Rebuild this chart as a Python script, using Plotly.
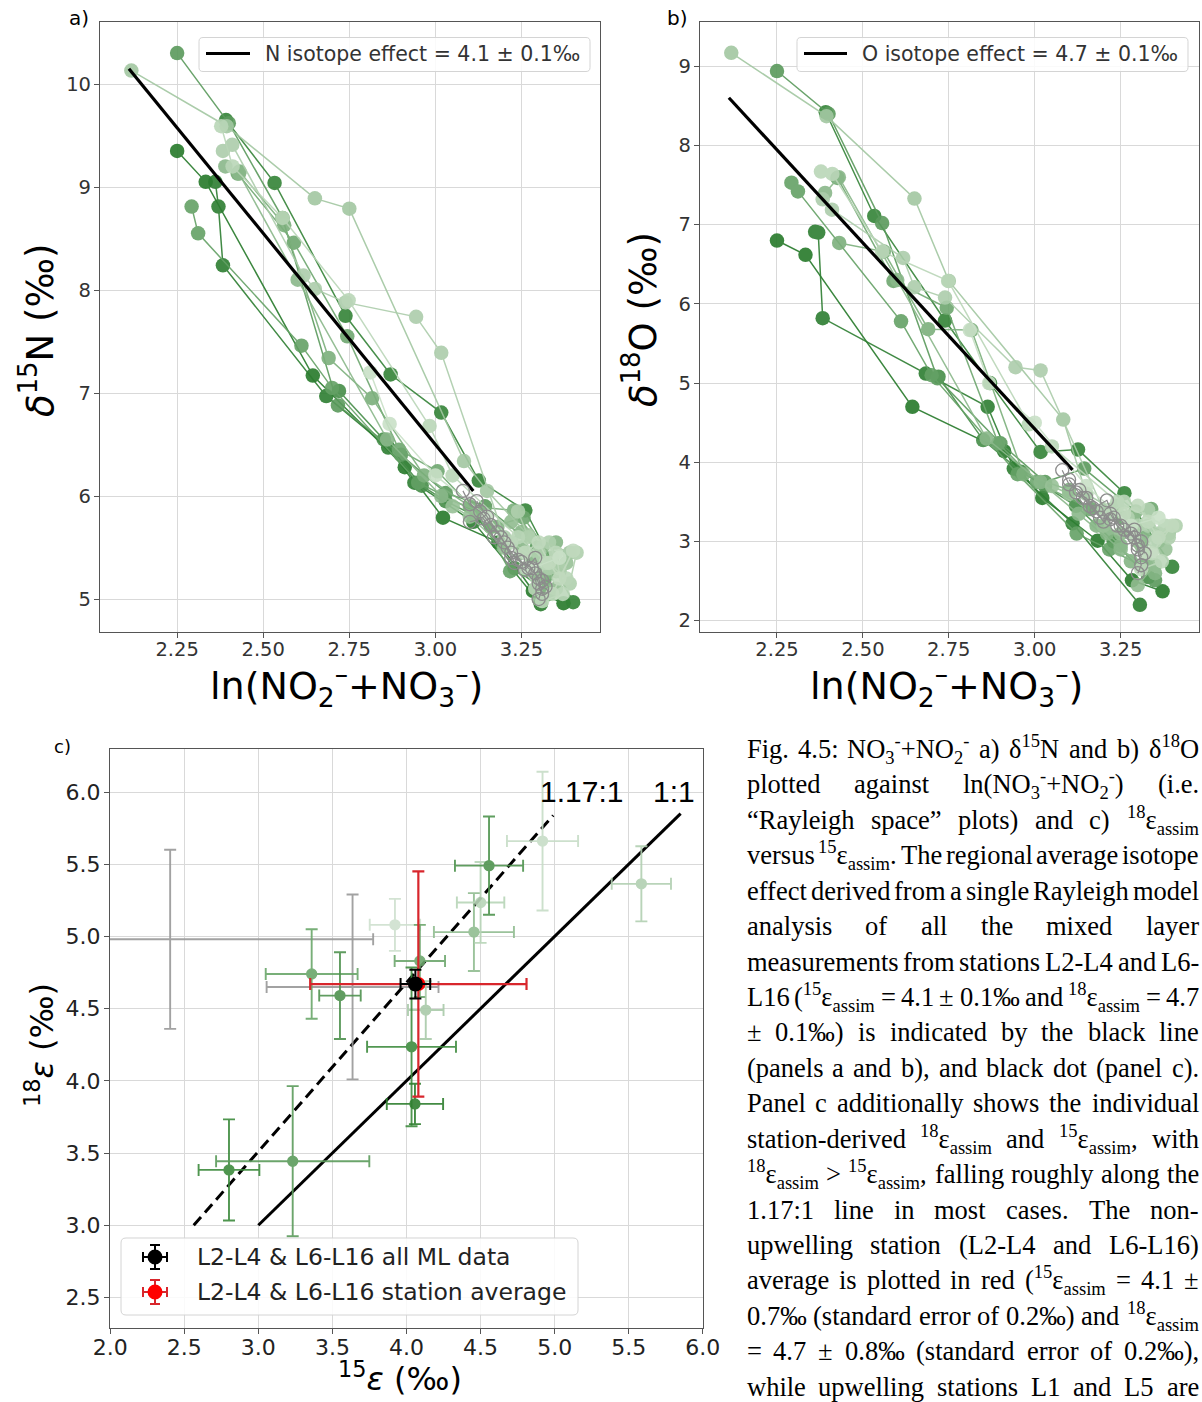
import re
import plotly.graph_objects as go

W, H = 1202, 1402

# ---------------------------------------------------------------------------
# Panels a) and b): mixed-layer profiles in Rayleigh space, one list per station
# ---------------------------------------------------------------------------
station_shade = [0.00, 0.04, 0.08, 0.18, 0.30, 0.36, 0.42, 0.50, 0.58, 0.62,
                 0.66, 0.72, 0.78, 0.86, 0.90, 0.95, 0.80, 0.88, 0.55]

station_ln = [
    [2.250, 2.333, 2.644, 2.911, 3.022, 3.183, 3.283, 3.372],
    [2.361, 2.370, 2.383, 2.683, 2.863, 2.939, 3.110, 3.306],
    [2.392, 2.533, 2.739, 2.870, 3.017, 3.126, 3.261, 3.400],
    [2.720, 2.850, 2.960, 3.030, 3.120, 3.230, 3.330],
    [2.250, 2.400, 2.556, 2.717, 2.900, 3.030, 3.144, 3.294, 3.350],
    [2.292, 2.311, 2.611, 2.700, 2.950, 3.122, 3.217, 3.317],
    [2.426, 2.589, 2.744, 2.894, 3.006, 3.161, 3.256, 3.339],
    [2.431, 2.561, 2.690, 2.816, 2.967, 3.100, 3.228, 3.360],
    [2.390, 2.430, 2.600, 2.860, 3.017, 3.128, 3.250, 3.320],
    [3.220, 3.250, 3.290, 3.310, 3.350, 3.300],
    [3.050, 3.100, 3.200, 3.300, 3.380],
    [2.117, 2.394, 2.650, 2.750, 3.083, 3.150, 3.270, 3.390],
    [2.383, 2.410, 2.617, 2.650, 2.739, 2.944, 3.017, 3.200, 3.330],
    [2.378, 2.411, 2.556, 2.748, 2.983, 3.050, 3.240, 3.380],
    [3.260, 3.300, 3.330, 3.360, 3.400, 3.340],
    [2.811, 2.867, 3.000, 3.150, 3.280, 3.360],
    [3.240, 3.270, 3.300, 3.330, 3.360, 3.390, 3.410],
    [3.220, 3.260, 3.290, 3.320, 3.350, 3.370, 3.310],
    [3.180, 3.210, 3.250, 3.280, 3.320, 3.350],
]

station_d15n = [
    [9.35, 9.05, 7.17, 6.28, 5.79, 5.55, 5.08, 4.96],
    [9.05, 8.81, 8.24, 6.97, 6.47, 6.13, 5.75, 4.95],
    [9.65, 9.04, 7.75, 7.18, 6.81, 6.15, 5.86, 4.97],
    [7.02, 6.55, 6.10, 5.95, 5.80, 5.30, 5.05],
    [10.30, 9.62, 8.70, 6.88, 6.40, 6.03, 5.90, 5.50, 5.27],
    [8.81, 8.55, 7.46, 7.05, 6.13, 5.84, 5.27, 5.19],
    [9.13, 8.46, 7.55, 6.45, 6.24, 5.70, 5.79, 5.40],
    [9.15, 8.63, 7.34, 6.95, 6.20, 5.90, 5.86, 5.27],
    [9.20, 9.13, 8.10, 6.55, 6.00, 5.85, 5.50, 5.10],
    [5.75, 5.45, 5.25, 5.50, 5.10, 5.00],
    [5.90, 5.80, 5.50, 5.20, 5.35],
    [10.13, 9.59, 8.89, 8.79, 6.34, 6.05, 5.62, 5.45],
    [9.35, 9.41, 8.14, 8.01, 7.88, 7.74, 7.39, 5.60, 5.30],
    [9.59, 9.20, 8.70, 7.90, 6.68, 6.20, 5.60, 5.20],
    [5.45, 5.55, 5.35, 5.20, 5.47, 5.05],
    [7.20, 6.70, 6.20, 5.80, 5.30, 5.40],
    [5.85, 5.60, 5.45, 5.55, 5.30, 5.15, 5.45],
    [5.55, 5.30, 5.10, 5.35, 5.45, 5.05, 4.98],
    [5.70, 5.55, 5.65, 5.40, 5.25, 5.55],
]

station_d18o = [
    [6.80, 6.62, 4.70, 4.14, 3.55, 3.01, 2.51, 2.37],
    [6.91, 6.90, 5.82, 5.12, 4.70, 3.92, 3.23, 2.20],
    [8.42, 7.11, 5.79, 5.00, 4.13, 4.16, 3.61, 2.68],
    [5.08, 4.28, 3.88, 3.70, 3.45, 3.00, 2.55],
    [8.94, 8.40, 7.02, 5.06, 4.24, 3.75, 3.92, 3.38, 2.51],
    [7.53, 7.42, 5.78, 5.10, 3.85, 3.10, 2.90, 2.68],
    [7.59, 6.29, 5.95, 4.24, 3.75, 3.41, 3.30, 3.41],
    [6.77, 6.66, 5.68, 5.67, 3.85, 3.65, 3.35, 3.00],
    [7.40, 7.60, 6.30, 4.30, 3.75, 3.35, 2.90, 2.70],
    [3.40, 3.10, 3.35, 2.95, 2.70, 2.45],
    [3.70, 3.60, 3.20, 3.00, 2.90],
    [9.17, 8.37, 7.33, 6.29, 4.54, 3.60, 3.30, 3.10],
    [7.32, 7.19, 6.58, 6.21, 6.08, 5.20, 5.16, 3.40, 3.20],
    [7.67, 7.64, 6.66, 6.29, 4.48, 4.20, 3.50, 3.20],
    [3.35, 3.45, 3.25, 3.05, 3.20, 2.85],
    [5.67, 5.00, 4.50, 3.70, 3.20, 3.30],
    [3.45, 3.30, 3.20, 3.40, 3.10, 3.05, 3.20],
    [3.35, 3.50, 3.05, 2.85, 3.00, 2.75, 2.65],
    [3.20, 3.10, 2.95, 2.75, 3.05, 2.60],
]

# upwelling stations (open grey circles)
upwelling_ln = [
    [3.080, 3.100, 3.130, 3.160, 3.190, 3.220, 3.250, 3.280, 3.300, 3.310],
    [3.120, 3.150, 3.180, 3.200, 3.220, 3.240, 3.270, 3.290, 3.300, 3.310, 3.300],
    [3.100, 3.140, 3.170, 3.210, 3.230, 3.260, 3.290, 3.310, 3.320],
]
upwelling_d15n = [
    [6.05, 5.92, 5.85, 5.72, 5.60, 5.45, 5.36, 5.30, 5.20, 5.05],
    [5.95, 5.80, 5.65, 5.55, 5.40, 5.38, 5.30, 5.25, 5.15, 5.10, 5.00],
    [5.75, 5.78, 5.60, 5.50, 5.35, 5.28, 5.40, 5.18, 5.12],
]
upwelling_d18o = [
    [3.90, 3.72, 3.65, 3.45, 3.30, 3.28, 3.20, 3.10, 2.95, 2.80],
    [3.62, 3.55, 3.38, 3.25, 3.35, 3.20, 3.05, 3.15, 2.90, 2.70, 2.60],
    [3.78, 3.55, 3.42, 3.52, 3.30, 3.15, 3.05, 3.00, 2.85],
]

# single Rayleigh fits: slope = isotope effect (per mil)
n_effect, n_intercept = 4.1, 18.80
o_effect, o_intercept = 4.7, 18.52
fit_ln = [2.11, 3.11]

# ---------------------------------------------------------------------------
# Panel c): station-derived isotope effects
# ---------------------------------------------------------------------------
eps15 = [2.405, 3.636, 2.802, 3.232, 3.360, 3.551, 3.922, 4.090,
         4.130, 4.034, 4.057, 4.455, 4.500, 4.557, 4.918, 5.585]
eps18 = [4.980, 4.650, 3.383, 3.443, 4.740, 4.590, 5.080, 4.830,
         4.490, 4.235, 3.840, 5.030, 5.235, 5.490, 5.660, 5.364]
eps15_err = [1.37, 0.58, 0.205, 0.517, 0.31, 0.14, 0.17, 0.17,
             0.12, 0.30, 0.19, 0.27, 0.16, 0.23, 0.24, 0.20]
eps18_err = [0.62, 0.64, 0.35, 0.52, 0.31, 0.30, 0.18, 0.25,
             0.20, 0.55, 0.14, 0.27, 0.28, 0.34, 0.48, 0.26]
eps_colors = ['#999999', '#999999', '#3d8b3d', '#5c9c5c', '#6aa76a', '#4f924f',
              '#cfe1cf', '#6da76d', '#a9caa9', '#3f8c3f', '#2f7f2f', '#91bd91',
              '#b8d5b8', '#4f944f', '#c7ddc7', '#b2d0b2']
eps_upwelling = [True, True] + [False] * 14

all_ml_eps15, all_ml_eps18, all_ml_err15, all_ml_err18 = 4.06, 4.67, 0.10, 0.10
avg_eps15, avg_eps18, avg_err15, avg_err18 = 4.08, 4.67, 0.73, 0.78

ratio_labels = ['1.17:1', '1:1']
ratio_slopes = [1.17, 1.0]
ratio_x0 = [2.564, 3.0]
ratio_x1 = [4.99, 5.85]

legend_c_labels = ['L2-L4 &amp; L6-L16 all ML data', 'L2-L4 &amp; L6-L16 station average']

# ---------------------------------------------------------------------------
# Caption, split into justified lines of words
# ---------------------------------------------------------------------------
E = 'ε<sub>assim</sub>'
caption_lines = [
    ['Fig.', '4.5:', 'NO<sub>3</sub><sup>-</sup>+NO<sub>2</sub><sup>-</sup>', 'a)', 'δ<sup>15</sup>N', 'and', 'b)', 'δ<sup>18</sup>O'],
    ['plotted', 'against', 'ln(NO<sub>3</sub><sup>-</sup>+NO<sub>2</sub><sup>-</sup>)', '(i.e.'],
    ['“Rayleigh', 'space”', 'plots)', 'and', 'c)', '<sup>18</sup>' + E],
    ['versus', '<sup>15</sup>' + E + '.', 'The', 'regional', 'average', 'isotope'],
    ['effect', 'derived', 'from', 'a', 'single', 'Rayleigh', 'model'],
    ['analysis', 'of', 'all', 'the', 'mixed', 'layer'],
    ['measurements', 'from', 'stations', 'L2-L4', 'and', 'L6-'],
    ['L16', '(<sup>15</sup>' + E, '=', '4.1', '±', '0.1‰', 'and', '<sup>18</sup>' + E, '=', '4.7'],
    ['±', '0.1‰)', 'is', 'indicated', 'by', 'the', 'black', 'line'],
    ['(panels', 'a', 'and', 'b),', 'and', 'black', 'dot', '(panel', 'c).'],
    ['Panel', 'c', 'additionally', 'shows', 'the', 'individual'],
    ['station-derived', '<sup>18</sup>' + E, 'and', '<sup>15</sup>' + E + ',', 'with'],
    ['<sup>18</sup>' + E, '&gt;', '<sup>15</sup>' + E + ',', 'falling', 'roughly', 'along', 'the'],
    ['1.17:1', 'line', 'in', 'most', 'cases.', 'The', 'non-'],
    ['upwelling', 'station', '(L2-L4', 'and', 'L6-L16)'],
    ['average', 'is', 'plotted', 'in', 'red', '(<sup>15</sup>' + E, '=', '4.1', '±'],
    ['0.7‰', '(standard', 'error', 'of', '0.2‰)', 'and', '<sup>18</sup>' + E],
    ['=', '4.7', '±', '0.8‰', '(standard', 'error', 'of', '0.2‰),'],
    ['while', 'upwelling', 'stations', 'L1', 'and', 'L5', 'are'],
]

# ---------------------------------------------------------------------------
# helpers
# ---------------------------------------------------------------------------
def px(x):
    return x / W


def py(y):
    return 1 - y / H


def green(t):
    dark, light = (38, 122, 42), (210, 229, 207)
    c = [round(d + (l - d) * t) for d, l in zip(dark, light)]
    return 'rgb({},{},{})'.format(*c)


# Times-metric advance widths (per 1000 em) for justifying the caption
SERIF_W = {' ': 250, '(': 333, ')': 333, '+': 564, ',': 250, '-': 333, '.': 250,
           ':': 278, '=': 564, '>': 564, '±': 564, '‰': 1000, '“': 444, '”': 444,
           'δ': 500, 'ε': 440}
SERIF_W.update({d: 500 for d in '0123456789'})
SERIF_W.update(zip('ABCDEFGHIJKLMNOPQRSTUVWXYZ',
                   [722, 667, 667, 722, 611, 556, 722, 722, 333, 389, 722, 611, 889,
                    722, 722, 556, 722, 667, 556, 611, 722, 722, 944, 722, 722, 611]))
SERIF_W.update(zip('abcdefghijklmnopqrstuvwxyz',
                   [444, 500, 444, 500, 444, 333, 500, 500, 278, 278, 500, 278, 778,
                    500, 500, 500, 500, 333, 389, 278, 500, 500, 722, 500, 500, 444]))


def plain_em(s):
    s = s.replace('&gt;', '>')
    return sum(SERIF_W.get(ch, 500) for ch in s) / 1000.0


def token_width(tok, size):
    w, pos = 0.0, 0
    for m in re.finditer(r'<(sup|sub)>(.*?)</\1>', tok):
        w += plain_em(tok[pos:m.start()]) * size
        w += plain_em(m.group(2)) * size * 0.7
        pos = m.end()
    return w + plain_em(tok[pos:]) * size


def rounded_rect(x0, y0, x1, y1, r):
    pts = [
        ('M', x0 + r, y0), ('L', x1 - r, y0), ('Q', x1, y0, x1, y0 + r),
        ('L', x1, y1 - r), ('Q', x1, y1, x1 - r, y1), ('L', x0 + r, y1),
        ('Q', x0, y1, x0, y1 - r), ('L', x0, y0 + r), ('Q', x0, y0, x0 + r, y0),
    ]
    out = []
    for p in pts:
        cmd, coords = p[0], p[1:]
        xy = []
        for i in range(0, len(coords), 2):
            xy.append('{:.5f},{:.5f}'.format(px(coords[i]), py(coords[i + 1])))
        out.append(cmd + ' ' + ' '.join(xy))
    return ' '.join(out) + ' Z'


fig = go.Figure()

# ---------------------------------------------------------------------------
# panels a) and b)
# ---------------------------------------------------------------------------
order = sorted(range(len(station_shade)), key=lambda i: station_shade[i])
for i in order:
    col = green(station_shade[i])
    for yvals, xa, ya in ((station_d15n[i], 'x', 'y'), (station_d18o[i], 'x2', 'y2')):
        fig.add_trace(go.Scatter(
            x=station_ln[i], y=yvals, xaxis=xa, yaxis=ya, mode='lines+markers',
            line=dict(color=col, width=1.5), marker=dict(size=14.5, color=col),
            opacity=0.9, showlegend=False, hoverinfo='skip'))

for effect, icpt, xa, ya in ((n_effect, n_intercept, 'x', 'y'),
                             (o_effect, o_intercept, 'x2', 'y2')):
    fig.add_trace(go.Scatter(
        x=fit_ln, y=[icpt - effect * v for v in fit_ln], xaxis=xa, yaxis=ya,
        mode='lines', line=dict(color='black', width=3.2),
        showlegend=False, hoverinfo='skip'))

for xs, n15, o18 in zip(upwelling_ln, upwelling_d15n, upwelling_d18o):
    for yvals, xa, ya in ((n15, 'x', 'y'), (o18, 'x2', 'y2')):
        fig.add_trace(go.Scatter(
            x=xs, y=yvals, xaxis=xa, yaxis=ya, mode='lines+markers',
            line=dict(color='#8c8c8c', width=1.2),
            marker=dict(size=13, symbol='circle-open', color='#8c8c8c',
                        line=dict(width=1.3, color='#8c8c8c')),
            showlegend=False, hoverinfo='skip'))

# ---------------------------------------------------------------------------
# panel c)
# ---------------------------------------------------------------------------
for lab, slope, x0, x1 in zip(ratio_labels, ratio_slopes, ratio_x0, ratio_x1):
    fig.add_trace(go.Scatter(
        x=[x0, x1], y=[slope * x0, slope * x1], xaxis='x3', yaxis='y3', mode='lines',
        line=dict(color='black', width=3, dash='11px,6px' if slope != 1.0 else 'solid'),
        showlegend=False, hoverinfo='skip'))

for x, y, ex, ey, col, up in zip(eps15, eps18, eps15_err, eps18_err, eps_colors, eps_upwelling):
    fig.add_trace(go.Scatter(
        x=[x], y=[y], xaxis='x3', yaxis='y3', mode='markers',
        marker=dict(size=10, color='rgba(0,0,0,0)' if up else col,
                    symbol='circle-open' if up else 'circle',
                    line=dict(width=1.3, color=col)),
        error_x=dict(type='data', array=[ex], color=col, thickness=1.9, width=6),
        error_y=dict(type='data', array=[ey], color=col, thickness=1.9, width=6),
        opacity=0.9, showlegend=False, hoverinfo='skip'))

fig.add_trace(go.Scatter(
    x=[avg_eps15], y=[avg_eps18], xaxis='x3', yaxis='y3', mode='markers',
    marker=dict(size=14, color='red'),
    error_x=dict(type='data', array=[avg_err15], color='#d8262c', thickness=2.2, width=6),
    error_y=dict(type='data', array=[avg_err18], color='#d8262c', thickness=2.2, width=6),
    showlegend=False, hoverinfo='skip'))
fig.add_trace(go.Scatter(
    x=[all_ml_eps15], y=[all_ml_eps18], xaxis='x3', yaxis='y3', mode='markers',
    marker=dict(size=15, color='black'),
    error_x=dict(type='data', array=[all_ml_err15], color='black', thickness=2, width=6),
    error_y=dict(type='data', array=[all_ml_err18], color='black', thickness=2, width=6),
    showlegend=False, hoverinfo='skip'))

# ---------------------------------------------------------------------------
# axes
# ---------------------------------------------------------------------------
axis_common = dict(showline=True, mirror=True, linecolor='#555555', linewidth=1.2,
                   showgrid=True, gridcolor='#d9d9d9', gridwidth=1, zeroline=False,
                   ticks='outside', ticklen=5, tickwidth=1.1, tickcolor='#555555')
ab_font = dict(family='DejaVu Sans', size=19.5, color='#333333')
c_font = dict(family='DejaVu Sans', size=22, color='#222222')

ab_ln_ticks = [2.25, 2.50, 2.75, 3.00, 3.25]
fig.update_layout(
    xaxis=dict(domain=[px(100), px(600)], range=[2.026, 3.478], anchor='y',
               tickvals=ab_ln_ticks, ticktext=['%.2f' % v for v in ab_ln_ticks],
               tickfont=ab_font, ticklabelstandoff=-6, **axis_common),
    yaxis=dict(domain=[py(632), py(22)], range=[4.680, 10.602], anchor='x',
               tickvals=[5, 6, 7, 8, 9, 10], tickfont=ab_font, ticklabelstandoff=-1,
               **axis_common),
    xaxis2=dict(domain=[px(700), px(1199)], range=[2.026, 3.478], anchor='y2',
                tickvals=ab_ln_ticks, ticktext=['%.2f' % v for v in ab_ln_ticks],
                tickfont=ab_font, ticklabelstandoff=-6, **axis_common),
    yaxis2=dict(domain=[py(632), py(22)], range=[1.857, 9.559], anchor='x2',
                tickvals=[2, 3, 4, 5, 6, 7, 8, 9], tickfont=ab_font, ticklabelstandoff=-1,
                **axis_common),
    xaxis3=dict(domain=[px(110), px(703)], range=[1.999, 6.001], anchor='y3',
                tickvals=[2.0, 2.5, 3.0, 3.5, 4.0, 4.5, 5.0, 5.5, 6.0],
                ticktext=['2.0', '2.5', '3.0', '3.5', '4.0', '4.5', '5.0', '5.5', '6.0'],
                tickfont=c_font, ticklabelstandoff=-6, **axis_common),
    yaxis3=dict(domain=[py(1328), py(749)], range=[2.288, 6.298], anchor='x3',
                tickvals=[2.5, 3.0, 3.5, 4.0, 4.5, 5.0, 5.5, 6.0],
                ticktext=['2.5', '3.0', '3.5', '4.0', '4.5', '5.0', '5.5', '6.0'],
                tickfont=c_font, ticklabelstandoff=-1, **axis_common),
    width=W, height=H, margin=dict(l=0, r=0, t=0, b=0, autoexpand=False),
    paper_bgcolor='white', plot_bgcolor='white', showlegend=False,
)

# ---------------------------------------------------------------------------
# titles and panel letters
# ---------------------------------------------------------------------------
def note(x, y, text, size, family='DejaVu Sans', color='black', angle=0,
         xanchor='center', yanchor='middle'):
    fig.add_annotation(x=px(x), y=py(y), xref='paper', yref='paper', text=text,
                       showarrow=False, textangle=angle, xanchor=xanchor, yanchor=yanchor,
                       font=dict(family=family, size=size, color=color),
                       borderpad=0, borderwidth=0)


ln_title = 'ln(NO<sub>2</sub><sup>–</sup>+NO<sub>3</sub><sup>–</sup>)'
note(346, 686, ln_title, 38)
note(946, 686, ln_title, 38)
note(38, 330, '<i>δ</i><sup>15</sup>N (‰)', 37, angle=-90)
note(640, 320, '<i>δ</i><sup>18</sup>O (‰)', 37, angle=-90)
note(400, 1377, '<sup>15</sup><i>ε</i> (‰)', 32)
note(40, 1045, '<sup>18</sup><i>ε</i> (‰)', 32, angle=-90)

note(79, 18, 'a)', 20)
note(677, 18, 'b)', 20)
note(62, 746, 'c)', 18)

ratio_font = 'Liberation Sans, sans-serif'
fig.add_annotation(x=5.18, y=5.88, xref='x3', yref='y3', text=ratio_labels[0],
                   showarrow=False, xanchor='center', yanchor='bottom', borderpad=0,
                   font=dict(family=ratio_font, size=30, color='black'))
fig.add_annotation(x=5.955, y=5.88, xref='x3', yref='y3', text=ratio_labels[1],
                   showarrow=False, xanchor='right', yanchor='bottom', borderpad=0,
                   font=dict(family=ratio_font, size=30, color='black'))

# ---------------------------------------------------------------------------
# legends
# ---------------------------------------------------------------------------
def legend_box(x0, y0, x1, y1, r=4):
    fig.add_shape(type='path', path=rounded_rect(x0, y0, x1, y1, r), xref='paper', yref='paper',
                  line=dict(color='#d4d4d4', width=1), fillcolor='rgba(255,255,255,0.85)',
                  layer='above')


for (bx0, bx1, lx0, lx1, tx, label) in (
        (199, 590, 206, 250, 265, 'N isotope effect = %.1f ± 0.1‰' % n_effect),
        (797, 1188, 804, 847, 862, 'O isotope effect = %.1f ± 0.1‰' % o_effect)):
    legend_box(bx0, 37.5, bx1, 71.5)
    fig.add_shape(type='line', x0=px(lx0), x1=px(lx1), y0=py(53.5), y1=py(53.5),
                  xref='paper', yref='paper', line=dict(color='black', width=3.2), layer='above')
    note(tx, 53.5, label, 20.5, color='#333333', xanchor='left')

legend_box(121, 1238, 578, 1315, r=5)
for ky, mcol, ecol, label in ((1257, 'black', 'black', legend_c_labels[0]),
                              (1292, 'red', '#d8262c', legend_c_labels[1])):
    kx = 155
    for (ax0, ay0, ax1, ay1) in ((kx - 12, ky, kx + 12, ky), (kx, ky - 12, kx, ky + 12),
                                 (kx - 12, ky - 5, kx - 12, ky + 5), (kx + 12, ky - 5, kx + 12, ky + 5),
                                 (kx - 5, ky - 12, kx + 5, ky - 12), (kx - 5, ky + 12, kx + 5, ky + 12)):
        fig.add_shape(type='line', x0=px(ax0), y0=py(ay0), x1=px(ax1), y1=py(ay1),
                      xref='paper', yref='paper', line=dict(color=ecol, width=2), layer='above')
    fig.add_shape(type='circle', x0=px(kx - 7.5), x1=px(kx + 7.5), y0=py(ky + 7.5), y1=py(ky - 7.5),
                  xref='paper', yref='paper', fillcolor=mcol, line=dict(width=0), layer='above')
    note(197, ky, label, 23.5, color='#222222', xanchor='left')

# ---------------------------------------------------------------------------
# caption block: fully justified, one annotation per word
# ---------------------------------------------------------------------------
CAP_FS = 26.5
CAP_LEFT, CAP_RIGHT = 746.5, 1199.0
CAP_BASE0, CAP_LEAD = 758.3, 35.43

for li, tokens in enumerate(caption_lines):
    widths = [token_width(t, CAP_FS) for t in tokens]
    gap = (CAP_RIGHT - CAP_LEFT - sum(widths)) / max(1, len(tokens) - 1)
    baseline = CAP_BASE0 + CAP_LEAD * li
    xpos = CAP_LEFT
    for j, (tok, w) in enumerate(zip(tokens, widths)):
        last = (j == len(tokens) - 1) and j > 0
        bottom = baseline + (0.361 if '<sub>' in tok else 0.216) * CAP_FS
        fig.add_annotation(x=px(CAP_RIGHT if last else xpos), y=py(bottom),
                           xref='paper', yref='paper', text=tok, showarrow=False,
                           xanchor='right' if last else 'left', yanchor='bottom',
                           borderpad=0, borderwidth=0,
                           font=dict(family='Liberation Serif', size=CAP_FS, color='black'))
        xpos += w + gap

fig.write_html('out.html', config={'displayModeBar': False})
